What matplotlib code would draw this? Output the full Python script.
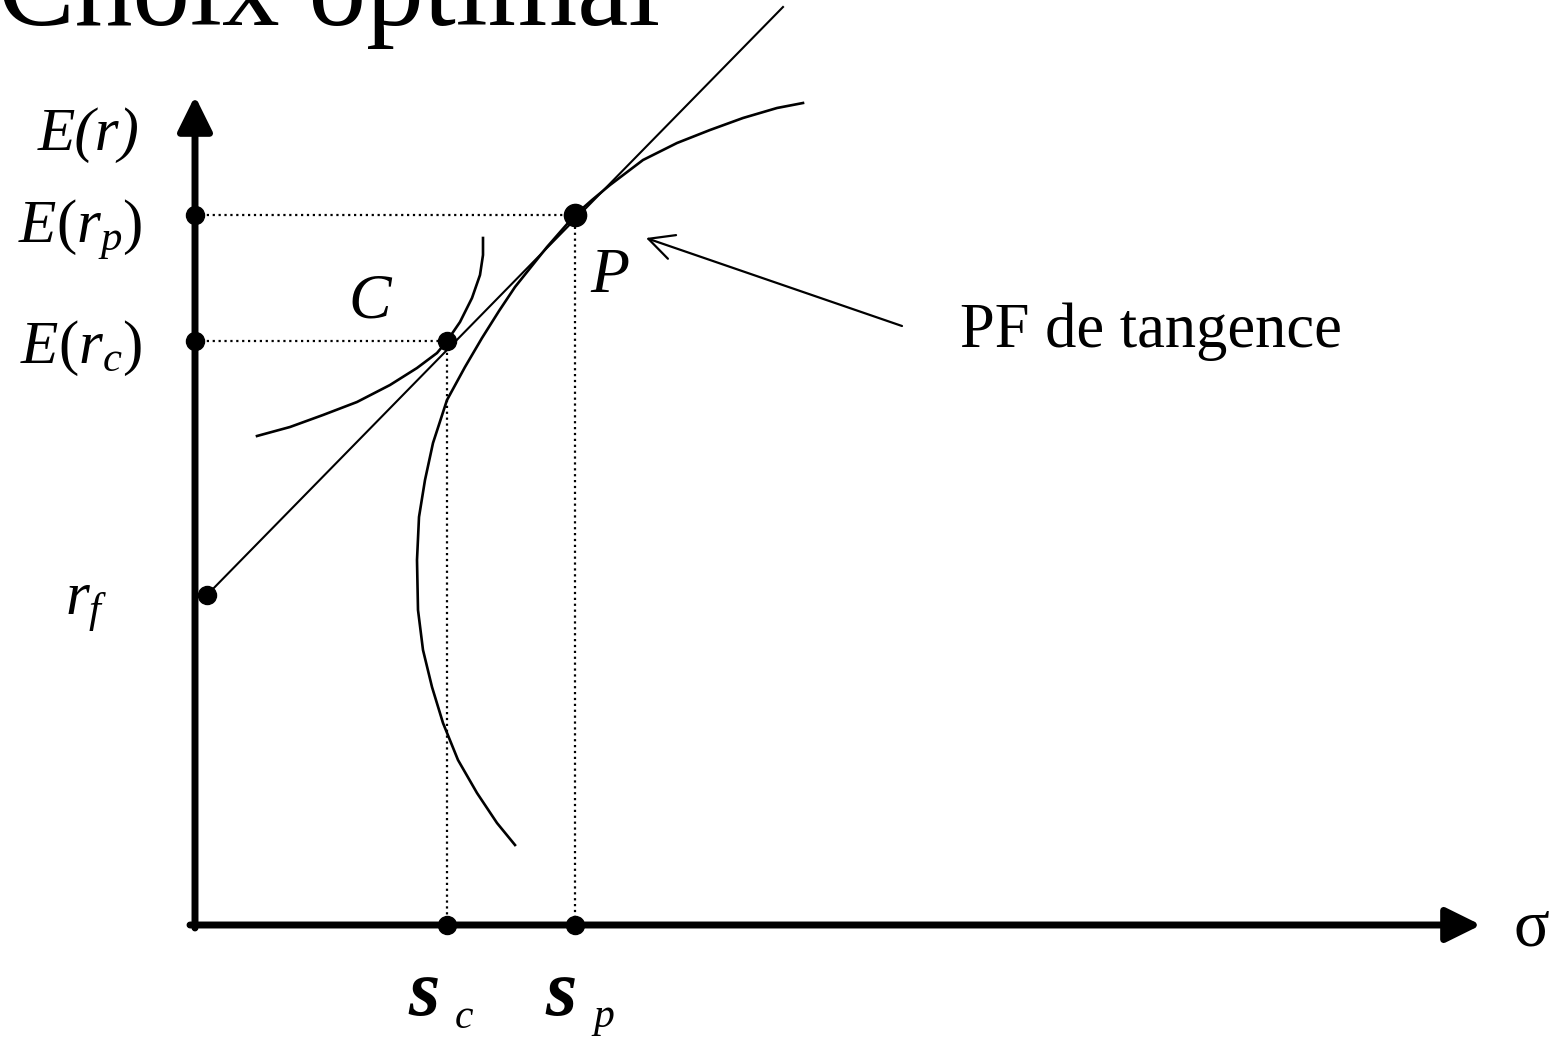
import matplotlib.pyplot as plt

plt.rcParams['font.family'] = ['Liberation Serif', 'DejaVu Serif']
plt.rcParams['mathtext.fontset'] = 'custom'
plt.rcParams['mathtext.rm'] = 'Liberation Serif'
plt.rcParams['mathtext.it'] = 'Liberation Serif:italic'
plt.rcParams['mathtext.bf'] = 'Liberation Serif:bold'

# axes de la figure (sigma, E(r))
sigma_max = 12.86
er_max = 8.29

# points clés
rf = 3.30
sigma_c, er_c = 2.52, 5.84
sigma_p, er_p = 3.80, 7.10
cal_end = (5.88, 9.18)

# frontière efficiente
front_sigma = [3.20, 3.02, 2.82, 2.63, 2.48, 2.37, 2.28, 2.23, 2.22, 2.24, 2.30, 2.38,
               2.52, 2.70, 2.87, 3.04, 3.20, 3.52, 3.80, 3.97, 4.15, 4.48, 4.82, 5.15,
               5.48, 5.82, 6.08]
front_er = [0.80, 1.02, 1.32, 1.65, 2.02, 2.38, 2.75, 3.15, 3.65, 4.08, 4.45, 4.82,
            5.25, 5.58, 5.87, 6.14, 6.38, 6.78, 7.10, 7.25, 7.40, 7.65, 7.82, 7.95,
            8.07, 8.17, 8.22]

# courbe d'indifférence passant par C
indif_sigma = [0.62, 0.95, 1.28, 1.62, 1.95, 2.22, 2.42, 2.52, 2.65, 2.77, 2.85, 2.88, 2.88]
indif_er = [4.89, 4.98, 5.10, 5.23, 5.40, 5.57, 5.72, 5.84, 6.03, 6.27, 6.50, 6.70, 6.87]

fig = plt.figure(figsize=(15.62, 10.39), dpi=100)
ax = fig.add_axes([0, 0, 1, 1])
ax.set_xlim(-1.95, 13.67)
ax.set_ylim(-1.14, 9.25)
ax.axis('off')

# axes avec flèches
arrow = dict(arrowstyle='-|>,head_length=0.85,head_width=0.42', lw=5, color='black',
             shrinkA=0, shrinkB=0, mutation_scale=25)
ax.annotate('', xy=(0, er_max), xytext=(0, -0.03), arrowprops=arrow)
ax.annotate('', xy=(sigma_max, 0), xytext=(-0.05, 0), arrowprops=arrow)

# lignes pointillées
ax.plot([0, sigma_p], [er_p, er_p], ':', color='black', lw=1.6)
ax.plot([0, sigma_c], [er_c, er_c], ':', color='black', lw=1.6)
ax.plot([sigma_p, sigma_p], [er_p, 0], ':', color='black', lw=1.6)
ax.plot([sigma_c, sigma_c], [er_c, 0], ':', color='black', lw=1.6)

# CAL, frontière et courbe d'indifférence
ax.plot([0.12, cal_end[0]], [rf, cal_end[1]], color='black', lw=1.5)
ax.plot(front_sigma, front_er, color='black', lw=1.9, solid_joinstyle='round')
ax.plot(indif_sigma, indif_er, color='black', lw=1.9, solid_joinstyle='round')

# points
ax.plot([0, 0, 0.12, sigma_c, sigma_c, sigma_p],
        [er_p, er_c, rf, er_c, 0, 0],
        'o', color='black', markersize=13, zorder=5)
ax.plot([sigma_p], [er_p], 'o', color='black', markersize=16, zorder=5)

# flèche vers P
ax.annotate('', xy=(4.51, 6.87), xytext=(7.07, 5.99),
            arrowprops=dict(arrowstyle='->,head_length=1.0,head_width=0.5', lw=1.6,
                            color='black', shrinkA=0, shrinkB=0, mutation_scale=18))

# textes
ax.text(-1.97, 9.0, 'Choix optimal', fontsize=83, ha='left', va='baseline')
ax.text(-0.55, 7.75, 'E(r)', fontsize=44, fontstyle='italic', ha='right', va='baseline')
ax.text(-1.77, 6.82, '$E(r_p)$', fontsize=44, ha='left', va='baseline')
ax.text(-1.75, 5.62, '$E(r_c)$', fontsize=44, ha='left', va='baseline')
ax.text(-1.30, 3.10, '$r_f$', fontsize=44, ha='left', va='baseline')
ax.text(1.75, 6.08, 'C', fontsize=46, fontstyle='italic', ha='center', va='baseline')
ax.text(3.95, 6.33, 'P', fontsize=46, fontstyle='italic', ha='left', va='baseline')
ax.text(7.65, 5.78, 'PF de tangence', fontsize=45, ha='left', va='baseline')
ax.text(13.36, -0.2, 'σ', fontsize=48, ha='center', va='baseline')
ax.text(2.13, -0.90, 's', fontsize=58, fontstyle='italic', fontweight='bold', ha='left', va='baseline')
ax.text(2.60, -1.03, 'c', fontsize=30, fontstyle='italic', ha='left', va='baseline')
ax.text(3.50, -0.90, 's', fontsize=58, fontstyle='italic', fontweight='bold', ha='left', va='baseline')
ax.text(3.98, -1.02, 'p', fontsize=30, fontstyle='italic', ha='left', va='baseline')

fig.savefig('out.png', dpi=100)
plt.close(fig)
